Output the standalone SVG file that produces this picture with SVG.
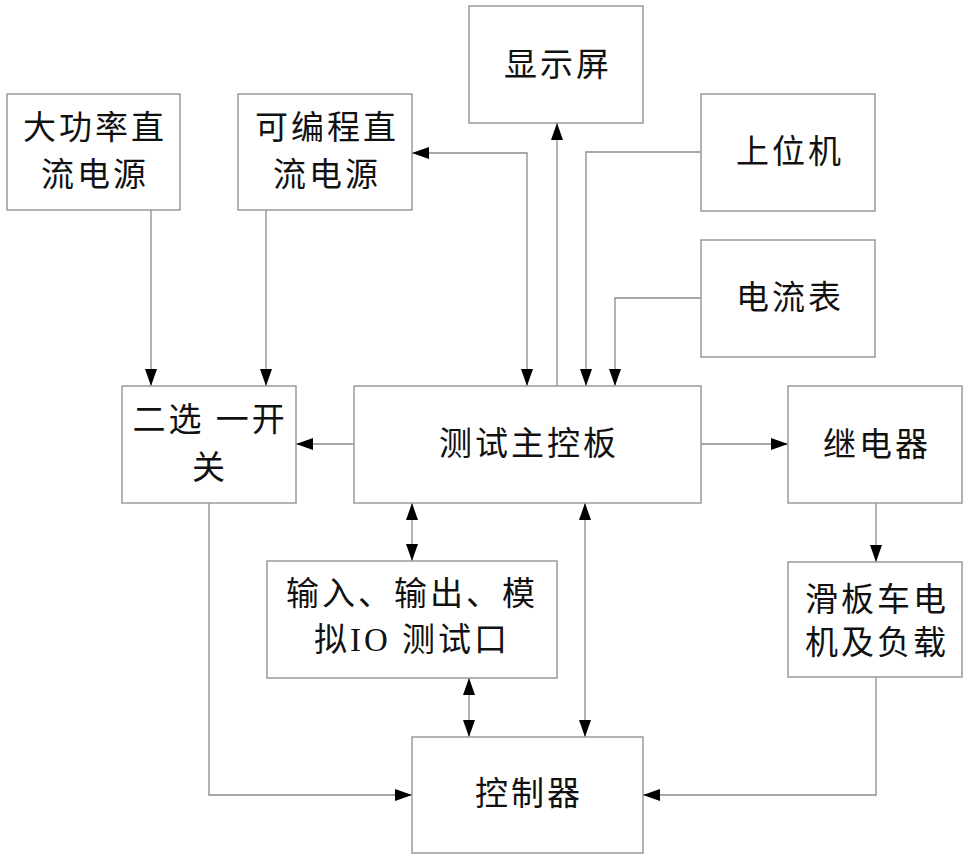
<svg xmlns="http://www.w3.org/2000/svg" width="969" height="860" viewBox="0 0 969 860">
<style>
.box{fill:#fff;stroke:#9a9a9a;stroke-width:1.5}
.t{font-family:"Liberation Serif","Noto Sans CJK SC",serif;font-size:33px;letter-spacing:3px;fill:#111;text-anchor:middle;dominant-baseline:central}
.c{fill:none;stroke:#8a8a8a;stroke-width:1.3}
</style>
<defs>
<marker id="ah" markerUnits="userSpaceOnUse" markerWidth="17" markerHeight="12" refX="17" refY="6" orient="auto-start-reverse">
<path d="M0,0 L17,6 L0,12 z" fill="#000"/>
</marker>
</defs>
<rect width="969" height="860" fill="#fff"/>
<g id="connectors">
<path class="c" d="M151,210 V386" marker-end="url(#ah)"/>
<path class="c" d="M266,210 V386" marker-end="url(#ah)"/>
<path class="c" d="M412,153 H527 V386" marker-start="url(#ah)" marker-end="url(#ah)"/>
<path class="c" d="M557,386 V123" marker-end="url(#ah)"/>
<path class="c" d="M701,152 H586 V386" marker-end="url(#ah)"/>
<path class="c" d="M701,298 H615 V386" marker-end="url(#ah)"/>
<path class="c" d="M354,444 H296" marker-end="url(#ah)"/>
<path class="c" d="M701,444 H788" marker-end="url(#ah)"/>
<path class="c" d="M876,503 V562" marker-end="url(#ah)"/>
<path class="c" d="M876,677 V795 H643" marker-end="url(#ah)"/>
<path class="c" d="M209,503 V795 H412" marker-end="url(#ah)"/>
<path class="c" d="M412,503 V561" marker-start="url(#ah)" marker-end="url(#ah)"/>
<path class="c" d="M585,503 V737" marker-start="url(#ah)" marker-end="url(#ah)"/>
<path class="c" d="M469,678 V737" marker-start="url(#ah)" marker-end="url(#ah)"/>
</g>
<g id="display"><rect class="box" x="469" y="6" width="174" height="117"/><text class="t" x="558" y="65">显示屏</text></g>
<g id="hp-power"><rect class="box" x="7" y="94" width="173" height="116"/><text class="t" x="95" y="128">大功率直</text><text class="t" x="95" y="175">流电源</text></g>
<g id="prog-power"><rect class="box" x="238" y="94" width="174" height="116"/><text class="t" x="327" y="128">可编程直</text><text class="t" x="327" y="175">流电源</text></g>
<g id="host"><rect class="box" x="701" y="94" width="174" height="117"/><text class="t" x="790" y="152">上位机</text></g>
<g id="ammeter"><rect class="box" x="701" y="240" width="174" height="117"/><text class="t" x="790" y="298">电流表</text></g>
<g id="switch"><rect class="box" x="122" y="386" width="174" height="117"/><text class="t" x="210" y="420">二选 一开</text><text class="t" x="210" y="468">关</text></g>
<g id="main-board"><rect class="box" x="354" y="386" width="347" height="117"/><text class="t" x="529" y="444">测试主控板</text></g>
<g id="relay"><rect class="box" x="788" y="386" width="174" height="117"/><text class="t" x="877" y="445">继电器</text></g>
<g id="io-port"><rect class="box" x="267" y="561" width="290" height="117"/><text class="t" x="412" y="594">输入、输出、模</text><text class="t" x="412" y="640">拟IO 测试口</text></g>
<g id="motor"><rect class="box" x="788" y="562" width="174" height="115"/><text class="t" x="877" y="600">滑板车电</text><text class="t" x="877" y="643">机及负载</text></g>
<g id="controller"><rect class="box" x="412" y="737" width="231" height="116"/><text class="t" x="529" y="794">控制器</text></g>
</svg>
